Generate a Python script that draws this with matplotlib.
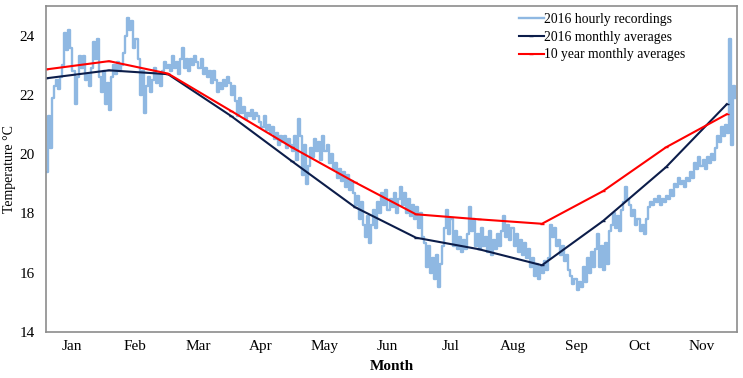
import matplotlib
matplotlib.use("Agg")
import matplotlib.pyplot as plt

#-------------------#
# Data
#-------------------#
months = ["Jan", "Feb", "Mar", "Apr", "May", "Jun", "Jul", "Aug", "Sep", "Oct", "Nov"]
# day of year where each monthly average is plotted (start of month)
month_days = [0, 31, 60, 91, 121, 152, 182, 213, 244, 274, 305, 335]
avg_2016 = [22.56, 22.83, 22.70, 21.29, 19.76, 18.21, 17.18, 16.79, 16.25, 17.74, 19.56, 21.69]
avg_10yr = [22.86, 23.14, 22.72, 21.46, 20.23, 19.05, 17.97, 17.80, 17.65, 18.75, 20.23, 21.35]

# recordings, one reading per day
jan = [19.4, 21.3, 20.2, 21.9, 22.3, 22.5, 22.2, 22.6, 23.0, 24.1, 23.5, 24.2, 23.6, 22.8, 21.7, 22.6,
       23.3, 22.9, 23.3, 22.5, 22.7, 22.3, 22.9, 23.8, 23.2, 23.9, 22.6, 22.1, 22.8, 21.7, 22.4]
feb = [21.5, 22.6, 23.0, 22.7, 23.1, 22.8, 23.0, 23.4, 24.0, 24.6, 24.2, 24.5, 23.6, 23.9, 23.2, 22.0,
       22.8, 21.4, 22.3, 22.6, 22.1, 22.5, 22.9, 22.4, 22.7, 22.3, 22.8, 23.1, 22.9]
mar = [23.0, 22.8, 23.3, 22.9, 23.1, 22.7, 23.2, 23.6, 22.9, 23.2, 22.8, 23.2, 23.0, 23.3, 23.1, 22.9,
       23.2, 22.7, 22.9, 22.6, 22.8, 22.4, 22.8, 22.5, 22.1, 22.4, 22.2, 22.5, 22.3, 22.6, 22.4]
apr = [22.0, 22.3, 21.8, 21.3, 21.9, 21.4, 21.6, 21.2, 21.4, 21.3, 21.5, 21.2, 21.4, 21.3, 21.1, 20.9,
       21.3, 20.8, 21.0, 20.7, 20.9, 20.5, 20.7, 20.3, 20.6, 20.4, 20.6, 20.2, 20.5, 20.3]
may = [20.1, 20.6, 19.8, 21.2, 20.6, 19.3, 20.3, 19.0, 19.6, 20.2, 19.9, 20.5, 20.1, 20.4, 19.8, 20.6,
       20.1, 20.3, 19.7, 20.0, 19.5, 19.7, 19.2, 19.5, 19.1, 19.4, 18.9, 19.3, 18.8, 19.1, 18.7]
jun = [18.3, 18.6, 17.8, 18.4, 17.6, 17.2, 17.9, 17.0, 17.6, 18.1, 17.5, 18.4, 18.0, 18.7, 18.3, 18.8,
       18.1, 18.5, 18.2, 18.7, 18.0, 18.5, 18.9, 18.3, 18.7, 18.0, 18.5, 17.9, 18.3, 17.8]
jul = [18.2, 17.5, 18.0, 17.2, 17.0, 16.2, 16.9, 16.0, 16.5, 15.8, 16.6, 15.5, 16.3, 16.9, 17.5, 18.1,
       17.3, 17.8, 16.9, 17.4, 16.8, 17.2, 16.7, 17.1, 16.8, 17.3, 18.2, 17.4, 17.8, 16.9, 17.3]
aug = [16.8, 17.5, 16.9, 17.2, 16.7, 17.4, 16.6, 17.1, 16.8, 17.3, 16.9, 17.4, 17.9, 17.2, 17.6, 17.1,
       17.5, 16.9, 17.3, 16.7, 17.1, 16.6, 17.0, 16.5, 16.8, 16.2, 16.5, 15.9, 16.3, 15.8, 16.2]
sep = [16.0, 16.4, 16.1, 16.5, 17.6, 17.2, 17.5, 16.9, 17.1, 16.6, 16.9, 16.4, 16.6, 16.1, 15.9, 15.6,
       15.8, 15.4, 15.7, 15.5, 16.2, 15.7, 16.5, 16.0, 16.7, 16.2, 16.8, 17.3, 16.2, 16.9]
oct_ = [16.1, 17.0, 16.3, 17.4, 17.6, 18.0, 17.5, 17.9, 17.4, 18.1, 18.4, 18.9, 18.5, 18.3, 17.9, 18.1,
        17.6, 17.8, 17.4, 17.6, 17.3, 17.8, 18.2, 18.4, 18.3, 18.5, 18.4, 18.6, 18.3, 18.5, 18.4]
nov = [18.6, 18.5, 18.8, 18.6, 19.0, 18.9, 19.2, 19.0, 19.1, 18.9, 19.2, 19.1, 19.4, 19.2, 19.7, 19.5,
       19.9, 19.6, 19.8, 19.5, 19.9, 19.7, 20.0, 19.8, 20.2, 20.6, 20.4, 20.9, 20.6, 21.0]
dec = [20.7, 23.9, 20.3, 22.3, 21.9]

hourly = jan + feb + mar + apr + may + jun + jul + aug + sep + oct_ + nov + dec
hourly_days = list(range(len(hourly)))

#-------------------#
# Style
#-------------------#
plt.rcParams['font.family'] = ['Liberation Serif', 'DejaVu Serif']
c_blue = '#8fb8e2'
c_navy = '#0c1d4a'
c_red = '#ff0000'
c_spine = '#8c8c8c'

fig = plt.figure(figsize=(7.43, 3.78), dpi=100)
ax = fig.add_axes([0.062, 0.122, 0.930, 0.862])

ax.plot(hourly_days, hourly, color=c_blue, lw=1.7, drawstyle='steps-post',
        label="2016 hourly recordings")
ax.plot(month_days, avg_2016, color=c_navy, lw=1.5, marker='_', ms=3,
        label="2016 monthly averages")
ax.plot(month_days, avg_10yr, color=c_red, lw=1.5, marker='_', ms=3,
        label="10 year monthly averages")

ax.set_xlim(0, 340)
ax.set_ylim(14, 25)
ax.set_yticks([14, 16, 18, 20, 22, 24])
ax.set_xticks([12.8 + 31 * i for i in range(len(months))])
ax.set_xticklabels(months)
ax.tick_params(length=0, labelsize=11, pad=6)
ax.tick_params(axis='y', pad=8)

for s in ax.spines.values():
	s.set_color(c_spine)
	s.set_linewidth(1.2)

ax.set_ylabel("Temperature °C", fontsize=10, labelpad=3)
ax.set_xlabel("Month", fontsize=11, fontweight='bold', labelpad=5)

ax.legend(loc='upper left', bbox_to_anchor=(0.674, 1.0), frameon=False,
          fontsize=9.8, handlelength=1.85, handletextpad=0.05, borderpad=0,
          labelspacing=0.35)

fig.savefig("out.png", dpi=100)
